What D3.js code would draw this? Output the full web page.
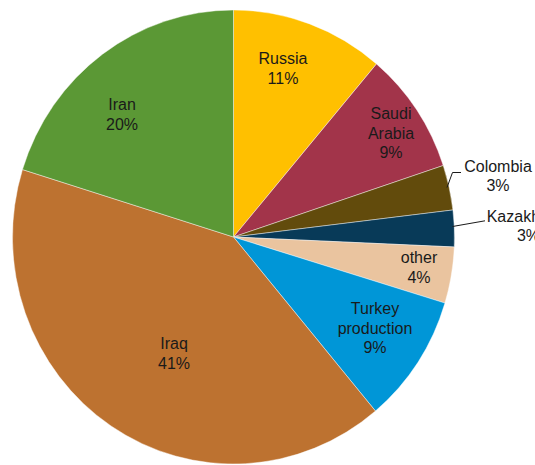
<!DOCTYPE html>
<html>
<head>
<meta charset="utf-8">
<script src="https://cdn.jsdelivr.net/npm/d3@7"></script>
<style>
  html, body { margin: 0; padding: 0; background: #fff; }
  svg { display: block; }
  text { font-family: "Liberation Sans", Arial, sans-serif; font-size: 16px; fill: #1a1a1a; }
</style>
</head>
<body>
<svg id="chart" width="535" height="465"></svg>
<script>
// Oil supply shares, clockwise from 12 o'clock
const categories = ["Russia", "Saudi Arabia", "Colombia", "Kazakhstan", "other", "Turkey production", "Iraq", "Iran"];
const shares     = [11.2, 8.7, 3.2, 2.6, 4.0, 9.2, 40.9, 20.2];
const colors     = ["#FFC000", "#A2344A", "#624B0C", "#083A58", "#EAC49F", "#0096D7", "#BD7230", "#5B9835"];

// Label text lines (percent appended from the share)
const labelLines = [["Russia"], ["Saudi", "Arabia"], ["Colombia"], ["Kazakhstan"], ["other"], ["Turkey", "production"], ["Iraq"], ["Iran"]];

// Label anchor points (centre x, first baseline y)
const labelAnchors = [[283, 64], [391, 119], [498, 171.5], [528.5, 221.5], [419, 263], [375, 314], [174, 349], [122, 110]];
// Leader lines for the labels placed outside the pie
const leaders = {
  "Colombia":   [[447, 187.5], [452.5, 172.5], [461, 172.5]],
  "Kazakhstan": [[452.5, 226.5], [485, 220.8]]
};

const cx = 233.5, cy = 237, rx = 221, ry = 227;
const lineH = 19.5;

const svg = d3.select("#chart");
const total = d3.sum(shares);

const pie = d3.pie().sort(null).value(d => d)(shares);
const arc = d3.arc().innerRadius(0).outerRadius(rx);

const g = svg.append("g")
  .attr("transform", `translate(${cx},${cy}) scale(1,${ry / rx})`);

g.selectAll("path")
  .data(pie)
  .join("path")
  .attr("d", arc)
  .attr("fill", (d, i) => colors[i])
  .attr("stroke", "#ffffff")
  .attr("stroke-width", 0.6)
  .attr("stroke-opacity", 0.7);

// Leader lines
Object.values(leaders).forEach(pts => {
  svg.append("path")
    .attr("d", d3.line()(pts))
    .attr("fill", "none")
    .attr("stroke", "#1a1a1a")
    .attr("stroke-width", 1);
});

// Labels
const labels = svg.append("g");
categories.forEach((c, i) => {
  const lines = labelLines[i].concat([Math.round(shares[i] / total * 100) + "%"]);
  const t = labels.append("text")
    .attr("text-anchor", "middle")
    .attr("x", labelAnchors[i][0])
    .attr("y", labelAnchors[i][1]);
  lines.forEach((ln, k) => {
    t.append("tspan")
      .attr("x", labelAnchors[i][0])
      .attr("dy", k === 0 ? 0 : lineH)
      .text(ln);
  });
});
</script>
</body>
</html>
